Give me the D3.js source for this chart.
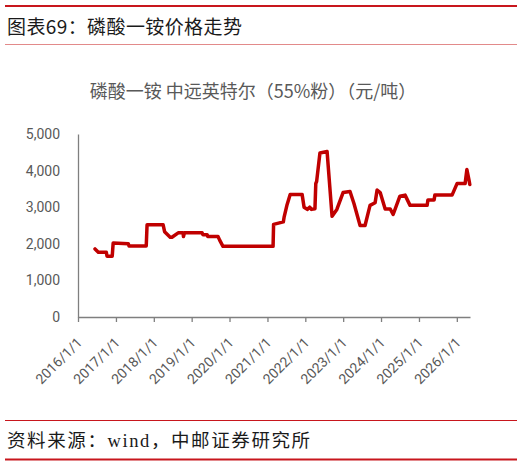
<!DOCTYPE html>
<html>
<head>
<meta charset="utf-8">
<script src="https://cdn.jsdelivr.net/npm/d3@7"></script>
<style>
  body { margin: 0; background: #fff; }
  svg { display: block; }
</style>
</head>
<body>
<div id="chart"></div>
<script>
const width = 525;
const height = 466;

const figureTitle = "图表69：磷酸一铵价格走势";
const chartTitle = "磷酸一铵 中远英特尔（55%粉）（元/吨）";
const sourceText = "资料来源：wind，中邮证券研究所";

// weekly-ish price readings (元/吨)
const dates = [
  "2016-06-13", "2016-07-15", "2016-09-30", "2016-10-07", "2016-11-26", "2016-12-05",
  "2017-04-30", "2017-05-07", "2017-10-20", "2017-10-28",
  "2018-04-01", "2018-04-15", "2018-06-08", "2018-06-25", "2018-08-24", "2018-10-10", "2018-10-14", "2018-10-23",
  "2019-04-12", "2019-04-19", "2019-05-30", "2019-06-06", "2019-09-12", "2019-09-28", "2019-10-30",
  "2021-02-24", "2021-03-01", "2021-06-03", "2021-06-10", "2021-07-09", "2021-08-08", "2021-12-01", "2021-12-20",
  "2022-01-20", "2022-02-12", "2022-03-01", "2022-04-04", "2022-04-12", "2022-04-20", "2022-05-22", "2022-07-30",
  "2022-09-16", "2022-11-01", "2022-12-31", "2023-03-08", "2023-04-15", "2023-06-13", "2023-07-31",
  "2023-09-17", "2023-11-05", "2023-11-24", "2023-12-24", "2024-02-10", "2024-03-30", "2024-04-27",
  "2024-07-01", "2024-08-20", "2024-10-07", "2025-03-21", "2025-03-28", "2025-05-27", "2025-06-03",
  "2025-11-16", "2026-01-04", "2026-03-22", "2026-04-08", "2026-04-28", "2026-05-06"
];
const prices = [
  1860, 1770, 1770, 1660, 1660, 2020,
  2000, 1940, 1940, 2520,
  2520, 2330, 2180, 2180, 2300, 2300, 2200, 2300,
  2300, 2250, 2250, 2200, 2200, 2100, 1930,
  1930, 2530, 2600, 2720, 3070, 3350, 3350, 3000,
  2940, 3000, 2940, 2960, 3650, 3700, 4480, 4520,
  2750, 2940, 3400, 3430, 3100, 2500, 2500,
  3050, 3120, 3470, 3400, 2950, 2950, 2800,
  3300, 3330, 3050, 3050, 3200, 3200, 3330,
  3330, 3650, 3650, 4030, 3750, 3620
];

const yTicks = [0, 1000, 2000, 3000, 4000, 5000];
const xTickYears = [2016, 2017, 2018, 2019, 2020, 2021, 2022, 2023, 2024, 2025, 2026];

const parse = d3.timeParse("%Y-%m-%d");
const series = dates.map((d, i) => ({ date: parse(d), value: prices[i] }));

const svg = d3.select("#chart").append("svg")
  .attr("width", width)
  .attr("height", height);

// header rules + figure title
svg.append("line")
  .attr("x1", 5).attr("x2", 517).attr("y1", 6).attr("y2", 6)
  .attr("stroke", "#c8161d").attr("stroke-width", 2);

svg.append("text")
  .attr("x", 7).attr("y", 34)
  .style("font-family", "'Noto Sans CJK SC', sans-serif")
  .style("font-size", "19px")
  .style("letter-spacing", "0.4px")
  .style("fill", "#1a1a1a")
  .text(figureTitle);

svg.append("line")
  .attr("x1", 5).attr("x2", 517).attr("y1", 44.5).attr("y2", 44.5)
  .attr("stroke", "#e28a8a").attr("stroke-width", 1);

// chart title
svg.append("text")
  .attr("x", 253).attr("y", 98)
  .attr("text-anchor", "middle")
  .style("font-family", "'Noto Sans CJK SC', sans-serif")
  .style("font-size", "18px")
  .style("fill", "#595959")
  .text(chartTitle);

// scales
const x = d3.scaleTime()
  .domain([new Date(2016, 0, 1), new Date(2026, 4, 8)])
  .range([78, 470]);

const y = d3.scaleLinear()
  .domain([0, 5000])
  .range([317, 134]);

const axisColor = "#7f7f7f";
const labelColor = "#595959";

// y axis
const yAxis = svg.append("g")
  .attr("transform", "translate(78,0)")
  .call(d3.axisLeft(y).tickValues(yTicks).tickSize(0).tickPadding(18).tickFormat(d3.format(",")));

yAxis.select(".domain")
  .attr("stroke", axisColor).attr("stroke-width", 1.3);
yAxis.selectAll("text")
  .style("font-family", "Roboto, 'Open Sans', sans-serif")
  .style("font-size", "14px")
  .style("fill", labelColor);

// x axis
const xAxis = svg.append("g")
  .attr("transform", "translate(0,317)")
  .call(d3.axisBottom(x)
    .tickValues(xTickYears.map(yr => new Date(yr, 0, 1)))
    .tickSize(5)
    .tickSizeOuter(0)
    .tickFormat(d => d.getFullYear() + "/1/1"));

xAxis.select(".domain")
  .attr("stroke", axisColor).attr("stroke-width", 1.3);
xAxis.selectAll("line")
  .attr("stroke", axisColor).attr("stroke-width", 1.3);
xAxis.selectAll("text")
  .attr("text-anchor", "end")
  .attr("x", 0).attr("y", 0).attr("dy", "0.35em")
  .attr("transform", "translate(1,23) rotate(-45)")
  .style("font-family", "Roboto, 'Open Sans', sans-serif")
  .style("font-size", "14px")
  .style("fill", labelColor);

// price line
const line = d3.line()
  .x(d => x(d.date))
  .y(d => y(d.value));

svg.append("path")
  .datum(series)
  .attr("fill", "none")
  .attr("stroke", "#c00000")
  .attr("stroke-width", 3.5)
  .attr("stroke-linejoin", "round")
  .attr("stroke-linecap", "round")
  .attr("d", line);

// footer
svg.append("line")
  .attr("x1", 5).attr("x2", 517).attr("y1", 420.5).attr("y2", 420.5)
  .attr("stroke", "#c8161d").attr("stroke-width", 1);

svg.append("text")
  .attr("x", 7).attr("y", 447)
  .style("font-family", "'Liberation Serif', 'Noto Sans CJK SC', serif")
  .style("font-size", "18.5px")
  .style("letter-spacing", "1.6px")
  .style("fill", "#1a1a1a")
  .text(sourceText);

svg.append("line")
  .attr("x1", 5).attr("x2", 517).attr("y1", 459.5).attr("y2", 459.5)
  .attr("stroke", "#c8161d").attr("stroke-width", 2);
</script>
</body>
</html>
